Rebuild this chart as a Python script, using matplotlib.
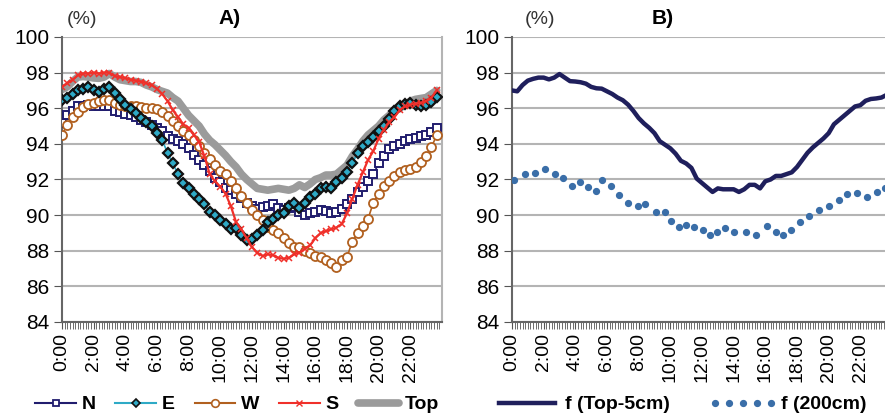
import numpy as np
import matplotlib
matplotlib.use("Agg")
from matplotlib import pyplot as plt
from matplotlib.lines import Line2D

plt.rcParams['font.family'] = ['Liberation Sans', 'DejaVu Sans']

# time of day in hours, one value every 20 minutes
t = np.arange(72) / 3.0

n_data = [95.15, 95.6, 95.85, 96.1, 96.15, 96.2, 96.15, 96.1, 96.1, 96.1, 95.85, 95.8,
          95.7, 95.6, 95.5, 95.35, 95.2, 95.05, 94.9, 94.7, 94.45, 94.3, 94.15, 94.0,
          93.75, 93.4, 93.1, 92.8, 92.5, 92.1, 91.85, 91.55, 91.4, 91.2, 90.95, 90.7,
          90.5, 90.35, 90.45, 90.5, 90.65, 90.4, 90.3, 90.4, 90.45, 90.15, 90.0, 90.1,
          90.2, 90.3, 90.25, 90.1, 90.2, 90.35, 90.6, 90.9, 91.3, 91.6, 91.9, 92.3,
          92.9, 93.3, 93.7, 93.9, 94.0, 94.15, 94.25, 94.35, 94.45, 94.5, 94.65, 94.88]

e_data = [96.45, 96.6, 96.8, 97.0, 97.1, 97.2, 97.05, 96.9, 97.1, 97.2, 96.85, 96.5,
          96.2, 95.95, 95.75, 95.45, 95.2, 95.0, 94.6, 94.2, 93.5, 92.9, 92.3, 91.8,
          91.5, 91.2, 90.9, 90.6, 90.2, 90.0, 89.75, 89.5, 89.2, 89.3, 88.9, 88.6,
          88.65, 88.9, 89.15, 89.6, 89.8, 90.0, 90.1, 90.5, 90.7, 90.4, 90.7, 91.0,
          91.2, 91.5, 91.6, 91.5, 91.85, 92.1, 92.4, 92.9, 93.5, 93.9, 94.1, 94.4,
          94.7, 95.0, 95.4, 95.85, 96.1, 96.25, 96.3, 96.2, 96.1, 96.2, 96.35, 96.65]

w_data = [94.5, 95.05, 95.5, 95.8, 96.05, 96.25, 96.3, 96.4, 96.45, 96.45, 96.3, 96.2,
          96.15, 96.1, 96.1, 96.05, 96.0, 96.0, 95.95, 95.8, 95.55, 95.3, 95.0, 94.75,
          94.5, 94.2, 93.9, 93.5, 93.15, 92.8, 92.5, 92.3, 91.9, 91.5, 91.1, 90.7,
          90.3, 90.0, 89.7, 89.35, 89.15, 89.0, 88.7, 88.45, 88.2, 88.2, 88.0, 87.85,
          87.7, 87.65, 87.5, 87.3, 87.1, 87.5, 87.65, 88.5, 89.0, 89.4, 89.8, 90.7,
          91.2, 91.65, 91.9, 92.2, 92.4, 92.55, 92.6, 92.7, 93.0, 93.3, 93.8, 94.5]

s_data = [97.2, 97.4, 97.6, 97.85, 97.95, 97.95, 98.0, 97.95, 98.0, 98.0, 97.8, 97.75,
          97.7, 97.6, 97.55, 97.5, 97.4, 97.3, 97.1, 96.8, 96.4, 95.9, 95.5, 95.1,
          94.9, 94.5, 94.1, 93.3, 92.3, 91.9, 91.6, 91.2, 90.5, 89.6, 89.2, 88.7,
          88.2, 87.9, 87.7, 87.8, 87.75, 87.6, 87.55, 87.6, 87.8, 87.9, 88.1, 88.3,
          88.7, 89.0, 89.1, 89.2, 89.3, 89.5, 90.1, 90.9, 91.7, 92.4, 93.1, 93.6,
          94.3, 94.8, 95.2, 95.5, 95.9, 96.1, 96.2, 96.25, 96.3, 96.4, 96.6, 97.0]

top_data = [97.05, 97.2, 97.5, 97.75, 97.78, 97.75, 97.7, 97.68, 97.75, 97.95, 97.75, 97.6,
            97.55, 97.5, 97.5, 97.45, 97.3, 97.2, 97.05, 96.95, 96.85, 96.6, 96.4, 96.0,
            95.6, 95.3, 95.0, 94.55, 94.2, 93.95, 93.65, 93.35, 93.0, 92.7, 92.3, 92.0,
            91.75, 91.5, 91.45, 91.4, 91.45, 91.5, 91.45, 91.4, 91.5, 91.7, 91.55, 91.75,
            92.0, 92.1, 92.25, 92.25, 92.3, 92.55, 92.8, 93.3, 93.7, 94.15, 94.5, 94.75,
            95.0, 95.35, 95.6, 95.85, 96.0, 96.2, 96.4, 96.5, 96.55, 96.6, 96.8, 97.0]

f_top5 = [97.0, 96.95, 97.3, 97.55, 97.65, 97.72, 97.72, 97.62, 97.72, 97.92, 97.72, 97.52,
          97.5, 97.46, 97.38, 97.2, 97.12, 97.1, 96.95, 96.8, 96.6, 96.45, 96.2, 95.85,
          95.45, 95.15, 94.9, 94.6, 94.15, 93.95, 93.75, 93.45, 93.05, 92.9, 92.65, 92.05,
          91.8, 91.55, 91.3, 91.5, 91.45, 91.45, 91.45, 91.3, 91.45, 91.7, 91.7, 91.5,
          91.9, 92.0, 92.2, 92.2, 92.3, 92.4, 92.7, 93.1, 93.5, 93.8, 94.05, 94.3,
          94.6, 95.1, 95.35, 95.6, 95.85, 96.1, 96.17, 96.42, 96.52, 96.55, 96.6, 96.75]

# 200 cm series as read at the plotted dots
t_200 = [0.15, 0.8, 1.43, 2.07, 2.7, 3.23, 3.78, 4.32, 4.82, 5.28, 5.7, 6.27, 6.75, 7.3,
         7.95, 8.42, 9.07, 9.65, 10.02, 10.55, 10.98, 11.52, 12.05, 12.52, 12.98, 13.43,
         14.0, 14.8, 15.43, 16.08, 16.68, 17.12, 17.65, 18.18, 18.75, 19.38, 20.02, 20.65,
         21.18, 21.78, 22.43, 23.05, 23.57]
f_200 = [91.97, 92.31, 92.36, 92.57, 92.31, 92.06, 91.63, 91.88, 91.59, 91.35, 91.97,
         91.65, 91.13, 90.66, 90.53, 90.64, 90.19, 90.15, 89.68, 89.36, 89.42, 89.32, 89.16,
         88.87, 89.08, 89.27, 89.08, 89.08, 88.91, 89.40, 89.08, 88.89, 89.14, 89.59, 89.94,
         90.30, 90.49, 90.86, 91.20, 91.26, 91.03, 91.31, 91.50]

hour_labels = ['%d:00' % h for h in range(0, 24, 2)]

c_n = '#211d6e'
c_e = '#2eaac6'
c_w = '#b1601f'
c_s = '#f0302a'
c_top = '#9b9b9b'
c_f5 = '#1f1f5c'
c_f200 = '#3a6ea8'

fig = plt.figure(figsize=(8.85, 4.18), dpi=100)
axA = fig.add_axes([0.070, 0.2297, 0.4294, 0.6818])
axB = fig.add_axes([0.5785, 0.2297, 0.4294, 0.6818])


def style_axis(ax):
    ax.set_xlim(0, 24)
    ax.set_ylim(84, 100)
    ax.set_yticks(np.arange(84, 101, 2))
    ax.set_xticks(np.arange(0, 24, 2))
    ax.set_xticklabels(hour_labels, rotation=90)
    ax.set_xticks(np.arange(0, 24, 1 / 6.0), minor=True)
    ax.yaxis.grid(True, color='#b4b4b4', lw=1.5)
    ax.set_axisbelow(True)
    ax.tick_params(axis='y', labelsize=15, length=6, color='#555555', pad=3)
    ax.tick_params(axis='x', which='both', labelsize=14, length=5, color='#555555', pad=3)
    for side in ['left', 'bottom']:
        ax.spines[side].set_color('#666666')
        ax.spines[side].set_linewidth(1.5)
    ax.spines['top'].set_visible(False)
    ax.spines['right'].set_color('#b4b4b4')
    ax.spines['right'].set_linewidth(1.5)


style_axis(axA)
style_axis(axB)

# panel A
axA.plot(t, top_data, color=c_top, lw=5.5, solid_capstyle='round', zorder=2)
axA.plot(t, n_data, color=c_n, lw=1.2, marker='s', ms=6, mfc='white', mec=c_n, mew=1.4, zorder=3)
axA.plot(t, w_data, color=c_w, lw=1.2, marker='o', ms=6.5, mfc='white', mec=c_w, mew=1.3, zorder=4)
axA.plot(t, e_data, color=c_e, lw=1.2, marker='D', ms=5, mfc=c_e, mec='#111111', mew=1.6, zorder=5)
axA.plot(t, s_data, color=c_s, lw=1.6, marker='x', ms=4.5, mec=c_s, mew=1.1, zorder=6)

# panel B
axB.plot(t, f_top5, color=c_f5, lw=3.2, zorder=3)
axB.plot(t_200, f_200, ls='none', marker='o', ms=4.2, color=c_f200, zorder=3)

fig.text(82 / 885, 1 - 20 / 418, '(%)', ha='center', va='center', fontsize=14, color='#333333')
fig.text(230 / 885, 1 - 18 / 418, 'A)', ha='center', va='center', fontsize=15, fontweight='bold')
fig.text(540 / 885, 1 - 20 / 418, '(%)', ha='center', va='center', fontsize=14, color='#333333')
fig.text(663 / 885, 1 - 18 / 418, 'B)', ha='center', va='center', fontsize=15, fontweight='bold')

hA = [Line2D([], [], color=c_n, lw=1.5, marker='s', ms=5, mfc='white', mec=c_n, mew=1.3),
      Line2D([], [], color=c_e, lw=1.5, marker='D', ms=4.5, mfc=c_e, mec='#111111', mew=1.2),
      Line2D([], [], color=c_w, lw=1.5, marker='o', ms=5.5, mfc='white', mec=c_w, mew=1.2),
      Line2D([], [], color=c_s, lw=1.5, marker='x', ms=4, mec=c_s, mew=1),
      Line2D([], [], color=c_top, lw=5.5, solid_capstyle='round')]
legA = fig.legend(hA, ['N', 'E', 'W', 'S', 'Top'], loc='center', ncol=5,
                  bbox_to_anchor=(0.268, 0.032), frameon=False, numpoints=1,
                  handlelength=2.1, handletextpad=0.3, columnspacing=1.0,
                  prop={'size': 14, 'weight': 'bold'})

hB = [Line2D([], [], color=c_f5, lw=3.2),
      Line2D([], [], ls='none', marker='o', ms=4.2, color=c_f200)]
legB = fig.legend(hB, ['f (Top-5cm)', 'f (200cm)'], loc='center', ncol=2,
                  bbox_to_anchor=(0.768, 0.032), frameon=False, numpoints=5,
                  handlelength=3.5, handletextpad=0.2, columnspacing=2.0,
                  prop={'size': 14, 'weight': 'bold'})

plt.savefig('out.png', dpi=100)
